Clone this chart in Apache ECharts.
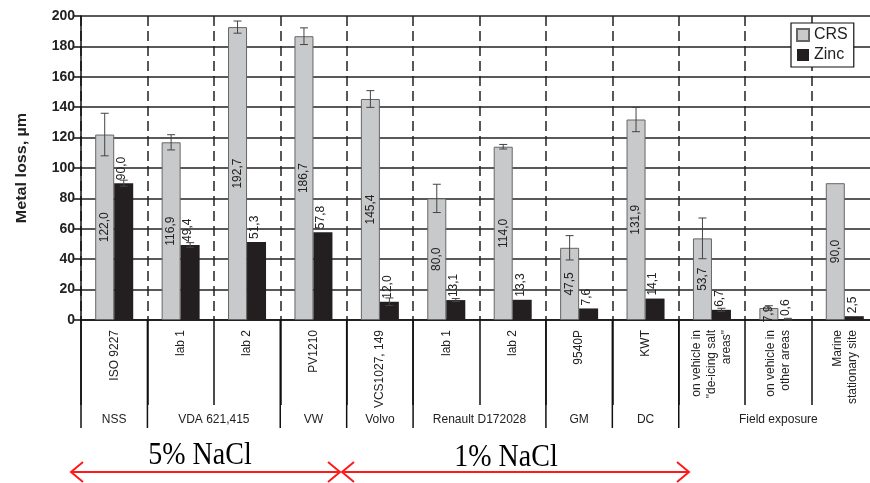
<!DOCTYPE html>
<html><head><meta charset="utf-8">
<script src="https://cdn.jsdelivr.net/npm/echarts@6/dist/echarts.min.js"></script>
<style>html,body{margin:0;padding:0;background:#fff;overflow:hidden}#c{width:884px;height:483px}</style>
</head><body><div id="c"></div>
<script>
var categories = ['ISO 9227','lab 1','lab 2','PV1210','VCS1027, 149','lab 1','lab 2','9540P','KWT','on vehicle in\n"de-icing salt\nareas"','on vehicle in\nother areas','Marine\nstationary site'];
var crsValues = [122.0,116.9,192.7,186.7,145.4,80.0,114.0,47.5,131.9,53.7,7.9,90.0];
var zincValues = [90.0,49.4,51.3,57.8,12.0,13.1,13.3,7.6,14.1,6.7,0.6,2.5];
var crsErr = [14,5,4,5.5,5.5,9.3,1.5,8,8,13.4,1.5,0];
var zincErr = [2,1.5,0,0,2.5,1,0,0,0,1,0.5,0];
var groupNames = ['NSS','VDA 621,415','VW','Volvo','Renault D172028','GM','DC','Field exposure'];
var groupSpans = [1,2,1,1,2,1,1,3];
var yTicks = {min:0, max:200, interval:20};

var FONT = 'Liberation Sans, Arial, sans-serif';
function fmt(v){ return v.toFixed(1).replace('.', ','); }

var chart = echarts.init(document.getElementById('c'), null, {renderer:'canvas'});

function errData(vals, errs){
  var out = [];
  for (var i=0;i<vals.length;i++){ if (errs[i]>0) out.push([i, vals[i]-errs[i], vals[i]+errs[i]]); }
  return out;
}
function errRender(offset){
  return function(params, api){
    var i = api.value(0);
    var lo = api.coord([i, api.value(1)]);
    var hi = api.coord([i, api.value(2)]);
    var x = lo[0] + offset;
    var c = 4;
    return {type:'group', children:[
      {type:'line', shape:{x1:x,y1:hi[1],x2:x,y2:lo[1]}, style:{stroke:'#444',lineWidth:1}},
      {type:'line', shape:{x1:x-c,y1:hi[1],x2:x+c,y2:hi[1]}, style:{stroke:'#444',lineWidth:1}},
      {type:'line', shape:{x1:x-c,y1:lo[1],x2:x+c,y2:lo[1]}, style:{stroke:'#444',lineWidth:1}}
    ]};
  };
}

chart.setOption({
  animation:false,
  textStyle:{fontFamily:FONT},
  grid:{left:81, top:16, right:6, bottom:163},
  legend:{
    left:791, top:23, orient:'vertical', itemWidth:12, itemHeight:12, itemGap:4,
    padding:[4,6,4,5], borderColor:'#111', borderWidth:1.2, backgroundColor:'#fff',
    textStyle:{fontSize:16, color:'#222', fontFamily:FONT},
    data:['CRS','Zinc'], icon:'rect'
  },
  xAxis:{
    type:'category', data:categories, boundaryGap:true,
    axisLine:{lineStyle:{color:'#111', width:1.5}},
    axisTick:{show:true, interval:0, length:85, lineStyle:{color:'#111', width:1.5}},
    axisLabel:{interval:0, rotate:90, margin:10, fontSize:12, color:'#222', lineHeight:15, fontFamily:FONT},
    splitLine:{show:true, interval:0, lineStyle:{color:'#222', width:1.5, type:[10,5]}}
  },
  yAxis:{
    type:'value', min:yTicks.min, max:yTicks.max, interval:yTicks.interval,
    axisLine:{show:true, lineStyle:{color:'#111', width:1.5}},
    axisTick:{show:true, length:8, lineStyle:{color:'#111', width:1.5}},
    axisLabel:{fontSize:14, fontWeight:'bold', color:'#222', margin:6, fontFamily:FONT},
    splitLine:{show:true, lineStyle:{color:'#222', width:1.5}}
  },
  series:[
    {name:'CRS', type:'bar', data:crsValues, barWidth:19, barGap:'0%',
     itemStyle:{color:'#c8c9cb', borderColor:'#666', borderWidth:1},
     label:{show:true, position:'inside', rotate:90, fontSize:12, color:'#222', fontFamily:FONT,
       formatter:function(p){return fmt(p.value);}}},
    {name:'Zinc', type:'bar', data:zincValues, barWidth:19, barGap:'0%',
     itemStyle:{color:'#231f20'},
     label:{show:true, position:'top', rotate:90, align:'left', verticalAlign:'middle', distance:3,
       fontSize:12, color:'#222', fontFamily:FONT, offset:[0,-2],
       formatter:function(p){return fmt(p.value);}}},
    {name:'crsErr', type:'custom', data:errData(crsValues, crsErr), renderItem:errRender(-9.5),
     encode:{x:0, y:[1,2]}, z:5, silent:true},
    {name:'zincErr', type:'custom', data:errData(zincValues, zincErr), renderItem:errRender(9.5),
     encode:{x:0, y:[1,2]}, z:5, silent:true}
  ]
});

// group labels and separators, positioned from the axis scale
var p0 = chart.convertToPixel({xAxisIndex:0}, 0);
var p1 = chart.convertToPixel({xAxisIndex:0}, 1);
var half = (p1 - p0)/2;
var y0 = chart.convertToPixel({yAxisIndex:0}, 0);
var yTop = chart.convertToPixel({yAxisIndex:0}, yTicks.max);
var graphics = [];
var start = 0;
function bx(i){ return chart.convertToPixel({xAxisIndex:0}, i) - half; }
graphics.push({type:'line', shape:{x1:bx(0),y1:y0,x2:bx(0),y2:y0+108}, style:{stroke:'#111',lineWidth:1.5}});
for (var g=0; g<groupNames.length; g++){
  var end = start + groupSpans[g];
  var xs = bx(start), xe = bx(end);
  graphics.push({type:'line', shape:{x1:xe,y1:y0,x2:xe,y2:y0+108}, style:{stroke:'#111',lineWidth:1.5}});
  graphics.push({type:'text', x:(xs+xe)/2, y:y0+100, style:{text:groupNames[g], fill:'#222', font:'12px '+FONT, textAlign:'center', textVerticalAlign:'middle'}});
  start = end;
}
// y axis title
graphics.push({type:'text', x:22, y:(y0+yTop)/2, rotation:Math.PI/2, scaleX:1.15,
  style:{text:'Metal loss, µm', fill:'#222', font:'bold 14px '+FONT, textAlign:'center', textVerticalAlign:'middle'}});
// NaCl arrows
function arrow(xa, xb, y){
  return [
    {type:'line', shape:{x1:xa,y1:y,x2:xb,y2:y}, style:{stroke:'#ff1a1a',lineWidth:2}},
    {type:'polyline', shape:{points:[[xa+12,y-10],[xa,y],[xa+12,y+10]]}, style:{stroke:'#ff1a1a',lineWidth:2,fill:null}},
    {type:'polyline', shape:{points:[[xb-12,y-10],[xb,y],[xb-12,y+10]]}, style:{stroke:'#ff1a1a',lineWidth:2,fill:null}}
  ];
}
graphics = graphics.concat(arrow(71, 340, 472), arrow(342, 689, 472));
graphics.push({type:'text', x:200, y:456, scaleY:1.15, style:{text:'5% NaCl', fill:'#000', font:'28px Liberation Serif, Times New Roman, serif', textAlign:'center', textVerticalAlign:'middle'}});
graphics.push({type:'text', x:506, y:458, scaleY:1.15, style:{text:'1% NaCl', fill:'#000', font:'28px Liberation Serif, Times New Roman, serif', textAlign:'center', textVerticalAlign:'middle'}});
chart.setOption({graphic:graphics});
</script></body></html>
